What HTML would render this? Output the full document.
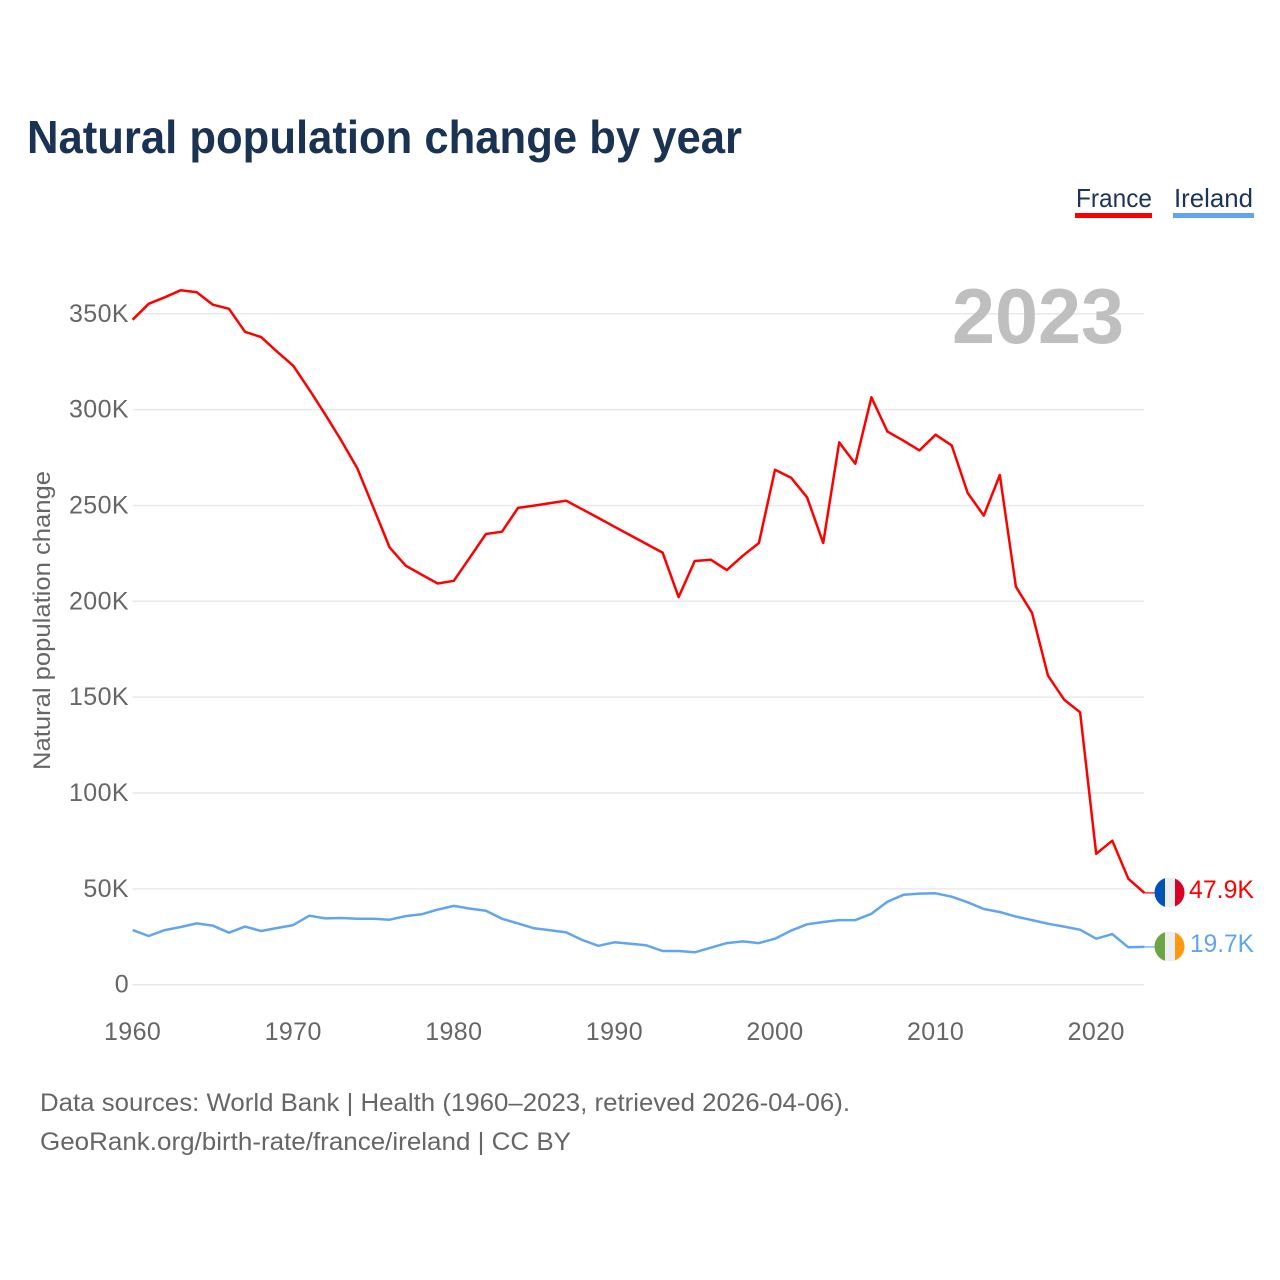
<!DOCTYPE html>
<html lang="en">
<head>
<meta charset="utf-8">
<title>Natural population change by year</title>
<style>
html,body{margin:0;padding:0;background:#fff;}
svg{display:block;font-family:"Liberation Sans",sans-serif;}
</style>
</head>
<body>
<svg id="chart" width="1280" height="1280" viewBox="0 0 1280 1280" xmlns="http://www.w3.org/2000/svg">
  <defs>
    <clipPath id="flag-clip-fr"><circle cx="1169.5" cy="892.5" r="15"/></clipPath>
    <clipPath id="flag-clip-ie"><circle cx="1169.5" cy="946.5" r="15"/></clipPath>
  </defs>
  <rect width="1280" height="1280" fill="#fff"/>
  <text x="27" y="153" font-size="46" font-weight="700" fill="#1a3352" textLength="715" lengthAdjust="spacingAndGlyphs">Natural population change by year</text>

  <g>
    <text x="1076" y="207" font-size="26" fill="#1c3557" textLength="76" lengthAdjust="spacingAndGlyphs">France</text>
    <rect x="1075" y="213" width="77" height="5" fill="#ff0000"/>
  </g>
  <g>
    <text x="1174" y="207" font-size="26" fill="#1c3557" textLength="79" lengthAdjust="spacingAndGlyphs">Ireland</text>
    <rect x="1173" y="213" width="81" height="5" fill="#60a5ee"/>
  </g>

  <g id="grid"></g>
  <g id="y-ticks"></g>
  <g id="x-ticks"></g>

  <text transform="translate(50,770) rotate(-90)" font-size="24" fill="#666" textLength="299" lengthAdjust="spacingAndGlyphs">Natural population change</text>

  <text x="952" y="343" font-size="78" font-weight="700" fill="#bfbfbf" textLength="172" lengthAdjust="spacingAndGlyphs">2023</text>

  <g id="series"></g>

  <g clip-path="url(#flag-clip-fr)">
    <rect x="1154" y="877" width="11" height="31" fill="#0052b4"/>
    <rect x="1165" y="877" width="10" height="31" fill="#eeeeee"/>
    <rect x="1175" y="877" width="10" height="31" fill="#d80027"/>
  </g>
  <g clip-path="url(#flag-clip-ie)">
    <rect x="1154" y="931" width="11" height="31" fill="#6da544"/>
    <rect x="1165" y="931" width="10" height="31" fill="#eeeeee"/>
    <rect x="1175" y="931" width="10" height="31" fill="#ff9811"/>
  </g>

  <text id="label-fr" x="1254" y="898" text-anchor="end" font-size="25" fill="#ff0000" textLength="65" lengthAdjust="spacingAndGlyphs"></text>
  <text id="label-ie" x="1254" y="952" text-anchor="end" font-size="25" fill="#60a5ee" textLength="64" lengthAdjust="spacingAndGlyphs"></text>

  <text x="40" y="1111" font-size="25" fill="#666" textLength="810" lengthAdjust="spacingAndGlyphs">Data sources: World Bank | Health (1960–2023, retrieved 2026-04-06).</text>
  <text x="40" y="1150" font-size="25" fill="#666" textLength="531" lengthAdjust="spacingAndGlyphs">GeoRank.org/birth-rate/france/ireland | CC BY</text>
</svg>
<script>
const startYear = 1960;
const xTickYears = [1960, 1970, 1980, 1990, 2000, 2010, 2020];
const yTickValues = [0, 50, 100, 150, 200, 250, 300, 350];
const yTickLabels = ['0', '50K', '100K', '150K', '200K', '250K', '300K', '350K'];
const franceValues = [346.9, 355.2, 358.6, 362.3, 361.2, 354.7, 352.6, 340.6, 337.8, 330.2,
  322.9, 310.4, 297.4, 283.8, 269.3, 248.8, 228.1, 218.6, 213.9, 209.3,
  210.7, 222.9, 235.1, 236.3, 248.7, 249.9, 251.2, 252.5, 248.0, 243.5,
  238.9, 234.4, 229.9, 225.4, 202.2, 221.0, 221.7, 216.3, 223.8, 230.4,
  268.6, 264.5, 254.2, 230.4, 282.9, 271.8, 306.4, 288.6, 283.8, 278.7,
  286.9, 281.3, 256.5, 244.7, 265.9, 207.6, 194.0, 161.2, 148.7, 142.1,
  68.3, 75.1, 55.3, 47.9];
const irelandValues = [28.5, 25.4, 28.5, 30.1, 32.0, 30.8, 27.1, 30.3, 28.0, 29.6,
  31.1, 36.0, 34.6, 34.8, 34.4, 34.4, 33.9, 35.8, 36.7, 39.2,
  41.1, 39.7, 38.6, 34.4, 32.0, 29.4, 28.4, 27.3, 23.3, 20.3,
  22.1, 21.4, 20.5, 17.6, 17.6, 16.9, 19.3, 21.7, 22.6, 21.7,
  24.0, 28.2, 31.5, 32.7, 33.7, 33.7, 37.0, 43.3, 46.9, 47.5,
  47.7, 45.9, 43.0, 39.5, 37.9, 35.5, 33.7, 31.8, 30.3, 28.7,
  24.0, 26.4, 19.5, 19.7];
const franceLabel = '47.9K';
const irelandLabel = '19.7K';

const NS = 'http://www.w3.org/2000/svg';
function xScale(year) { return 132.6 + (year - 1960) * 16.06; }
function yScale(v) { return 984.7 - v * 1.917; }
function make(tag, parent) {
  const el = document.createElementNS(NS, tag);
  parent.appendChild(el);
  return el;
}

const gridG = document.getElementById('grid');
const yG = document.getElementById('y-ticks');
yTickValues.forEach(function (v, i) {
  const ln = make('line', gridG);
  
  
  ln.setAttribute('x1', xScale(1960));
  ln.setAttribute('x2', 1144);
  ln.setAttribute('y1', yScale(v));
  ln.setAttribute('y2', yScale(v));
  ln.setAttribute('stroke', '#e9e9e9');
  ln.setAttribute('stroke-width', '1.5');
  const t = make('text', yG);
  
  
  t.setAttribute('x', 129);
  t.setAttribute('y', yScale(v) + 8);
  t.setAttribute('text-anchor', 'end');
  t.setAttribute('font-size', '25');
  t.setAttribute('fill', '#666');
  t.setAttribute('letter-spacing', '0.4');
  t.textContent = yTickLabels[i];
});

const xG = document.getElementById('x-ticks');
xTickYears.forEach(function (yr) {
  const t = make('text', xG);
  
  
  t.setAttribute('x', xScale(yr));
  t.setAttribute('y', 1040);
  t.setAttribute('text-anchor', 'middle');
  t.setAttribute('font-size', '25');
  t.setAttribute('fill', '#666');
  t.setAttribute('letter-spacing', '0.4');
  t.textContent = String(yr);
});

function pointsFor(values) {
  return values.map(function (v, i) {
    return xScale(startYear + i).toFixed(1) + ',' + yScale(v).toFixed(1);
  }).join(' ');
}

const seriesG = document.getElementById('series');

const irelandLine = make('polyline', seriesG);


irelandLine.setAttribute('points', pointsFor(irelandValues));
irelandLine.setAttribute('fill', 'none');
irelandLine.setAttribute('stroke', '#60a5ee');
irelandLine.setAttribute('stroke-width', '2.5');
irelandLine.setAttribute('stroke-linejoin', 'round');

const franceLine = make('polyline', seriesG);


franceLine.setAttribute('points', pointsFor(franceValues));
franceLine.setAttribute('fill', 'none');
franceLine.setAttribute('stroke', '#ff0000');
franceLine.setAttribute('stroke-width', '2.5');
franceLine.setAttribute('stroke-linejoin', 'round');

const lastIdx = franceValues.length - 1;

const franceLeader = make('line', seriesG);


franceLeader.setAttribute('x1', xScale(startYear + lastIdx));
franceLeader.setAttribute('x2', 1156);
franceLeader.setAttribute('y1', yScale(franceValues[lastIdx]));
franceLeader.setAttribute('y2', yScale(franceValues[lastIdx]));
franceLeader.setAttribute('stroke', '#ff0000');
franceLeader.setAttribute('stroke-width', '1.2');

const irelandLeader = make('line', seriesG);


irelandLeader.setAttribute('x1', xScale(startYear + lastIdx));
irelandLeader.setAttribute('x2', 1156);
irelandLeader.setAttribute('y1', yScale(irelandValues[lastIdx]));
irelandLeader.setAttribute('y2', yScale(irelandValues[lastIdx]));
irelandLeader.setAttribute('stroke', '#60a5ee');
irelandLeader.setAttribute('stroke-width', '1.2');

document.getElementById('label-fr').textContent = franceLabel;
document.getElementById('label-ie').textContent = irelandLabel;
</script>
</body>
</html>
